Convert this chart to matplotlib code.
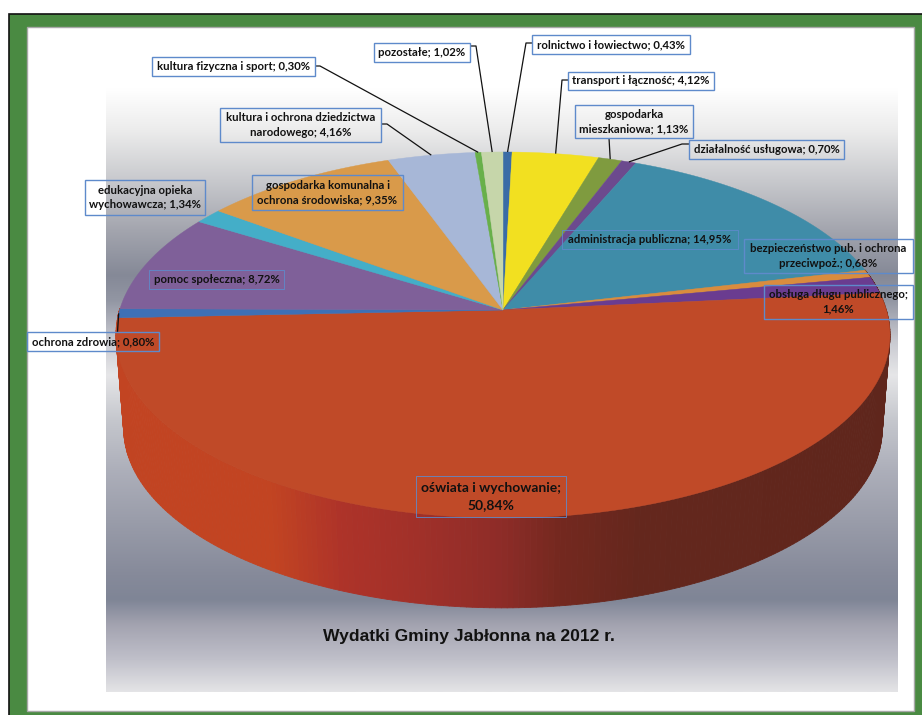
import numpy as np
import matplotlib
matplotlib.use("Agg")
import matplotlib.pyplot as plt
from matplotlib.colors import to_rgb
from matplotlib.patches import Rectangle, Polygon
from matplotlib.collections import PolyCollection

# ---- data ----
categories = ["rolnictwo i łowiectwo", "transport i łączność", "gospodarka mieszkaniowa",
              "działalność usługowa", "administracja publiczna",
              "bezpieczeństwo pub. i ochrona przeciwpoż.", "obsługa długu publicznego",
              "oświata i wychowanie", "ochrona zdrowia", "pomoc społeczna",
              "edukacyjna opieka wychowawcza", "gospodarka komunalna i ochrona środowiska",
              "kultura i ochrona dziedzictwa narodowego", "kultura fizyczna i sport", "pozostałe"]
values = [0.43, 4.12, 1.13, 0.70, 14.95, 0.68, 1.46, 50.84, 0.80, 8.72, 1.34, 9.35, 4.16, 0.30, 1.02]
colors = ["#3A6CA6", "#F2E020", "#7F9B3F", "#6C4A8E", "#3F8CA8", "#D98C3E", "#6A3C90", "#C04A28",
          "#3E70B6", "#7F6099", "#44AEC8", "#D99A4A", "#A7B7D7", "#68B04A", "#C6D6AA"]
title = "Wydatki Gminy Jabłonna na 2012 r."

# ---- layout (pixel space of the page) ----
W, H = 922, 715
CX, CY, A, B, K = 503.0, 310.0, 383.4, 179.6, 0.1366
BOTTOM_SCALE, BOTTOM_SHIFT = 0.98, 94.0

label_text = [
    "rolnictwo i łowiectwo; 0,43%", "transport i łączność; 4,12%", "gospodarka\nmieszkaniowa; 1,13%",
    "działalność usługowa; 0,70%", "administracja publiczna; 14,95%",
    "bezpieczeństwo pub. i ochrona\nprzeciwpoż.; 0,68%", "obsługa długu publicznego;\n1,46%",
    "oświata i wychowanie;\n50,84%", "ochrona zdrowia; 0,80%", "pomoc społeczna; 8,72%",
    "edukacyjna opieka\nwychowawcza; 1,34%", "gospodarka komunalna i\nochrona środowiska; 9,35%",
    "kultura i ochrona dziedzictwa\nnarodowego; 4,16%", "kultura fizyczna i sport; 0,30%",
    "pozostałe; 1,02%"]
boxes = [(532, 35, 690, 54), (568, 72, 714, 90), (575, 105, 693, 138), (689, 140, 844, 159),
         (562, 230, 738, 249), (744, 239, 913, 273), (764, 285, 913, 319), (416, 476, 566, 517),
         (27, 332, 159, 351), (149, 270, 284, 289), (85, 180, 205, 215), (252, 175, 403, 210),
         (220, 108, 381, 142), (152, 57, 315, 76), (374, 43, 470, 62)]
font_sizes = [8.2] * 15
font_sizes[7] = 10
line_spacing = [1.36] * 15
line_spacing[7] = 1.5
box_widths = [1.0] * 15
box_widths[4] = box_widths[7] = box_widths[9] = 0.6
elbows = {0: [(532, 43), (526, 43)], 1: [(568, 80), (562, 80)], 2: [(609, 138)],
          3: [(689, 144), (682, 144)], 8: [(117.5, 332)], 12: [(381, 124), (387, 124)],
          13: [(315, 66), (320, 66)], 14: [(470, 46), (476, 46)]}

BG_STOPS = [(88, "#FFFFFF"), (130, "#ECECEC"), (180, "#C8C9CD"), (230, "#A3A5AE"), (275, "#858997"),
            (300, "#9296A3"), (340, "#C8C9D0"), (375, "#E6E6E8"), (420, "#C5C7CD"), (470, "#ADAFBA"),
            (520, "#9A9DAA"), (575, "#868A9A"), (600, "#7F8596"), (625, "#A3A3B0"), (660, "#C0C0CA"),
            (692, "#E4E4E6")]
SIDE_STOPS = [(116, "#C24422"), (270, "#C24422"), (340, "#AE3329"), (420, "#A03029"), (500, "#8E2C28"),
              (560, "#74281F"), (640, "#64271D"), (889, "#5F261C")]


def project(theta_deg, r=1.0):
    """Clockwise-from-top pie angle onto the tilted page plane."""
    t = np.radians(theta_deg)
    u, v = r * np.sin(t), r * np.cos(t)
    d = 1 + K * v
    return CX + A * u / d, CY - B * v / d


def project_bottom(theta_deg):
    x, y = project(theta_deg)
    return CX + (x - CX) * BOTTOM_SCALE, CY + (y - CY) * BOTTOM_SCALE + BOTTOM_SHIFT


plt.rcParams["font.family"] = ["Lato", "DejaVu Sans"]
fig = plt.figure(figsize=(W / 100, H / 100), dpi=100, facecolor="white")
ax = fig.add_axes([0, 0, 1, 1])
ax.axis("off")

# page frame
ax.add_patch(Rectangle((9, 13.5), W, H, fc="#4A8A42", ec="#111111", lw=1.2, zorder=0))
ax.add_patch(Rectangle((26.5, 27), 887, 683.5, fc="white", ec="#A8A8A8", lw=1, zorder=0.5))

# background gradient
ys = np.array([s[0] for s in BG_STOPS], float)
rgb = np.array([to_rgb(s[1]) for s in BG_STOPS])
yy = np.arange(88, 692.5, 1.0)
grad = np.stack([np.interp(yy, ys, rgb[:, i]) for i in range(3)], axis=1)[:, None, :]
ax.imshow(grad, extent=(106, 897, 692, 88), aspect="auto", zorder=1, interpolation="bilinear")
ax.set_xlim(0, W)
ax.set_ylim(H, 0)

# slices
cum = np.concatenate([[0], np.cumsum(values)]) / np.sum(values) * 360.0
starts, ends = cum[:-1], cum[1:]
sx = np.array([s[0] for s in SIDE_STOPS], float)
srgb = np.array([to_rgb(s[1]) for s in SIDE_STOPS])

# extruded rim, visible along the front half
for a0, a1 in zip(starts, ends):
    if a0 < 70 or a1 > 290:
        continue
    th = np.linspace(a0, a1, 240)
    tx, ty = project(th)
    bx, by = project_bottom(th)
    quads, cols = [], []
    for i in range(len(th) - 1):
        quads.append([(tx[i], ty[i]), (tx[i + 1], ty[i + 1]), (bx[i + 1], by[i + 1]), (bx[i], by[i])])
        xm = (tx[i] + tx[i + 1]) / 2
        cols.append([np.interp(xm, sx, srgb[:, k]) for k in range(3)])
    ax.add_collection(PolyCollection(quads, facecolors=cols, edgecolors=cols, linewidths=0.6, zorder=2))

# top face
for a0, a1, c in zip(starts, ends, colors):
    th = np.linspace(a0, a1, max(3, int((a1 - a0) * 2)))
    x, y = project(th)
    pts = np.column_stack([np.r_[CX, x], np.r_[CY, y]])
    ax.add_patch(Polygon(pts, closed=True, fc=c, ec=c, lw=0.3, zorder=3))

# leader lines end on the rim of their slice
for i, pts in elbows.items():
    tip = project((starts[i] + ends[i]) / 2, 1.0)
    line = list(pts) + [tip]
    ax.plot([p[0] for p in line], [p[1] for p in line], color="#111111", lw=0.9, zorder=4,
            solid_capstyle="butt")

# labels
for txt, (x0, y0, x1, y1), fs, ls, bw in zip(label_text, boxes, font_sizes, line_spacing, box_widths):
    ax.add_patch(Rectangle((x0, y0), x1 - x0, y1 - y0, fc="none", ec="#5E8ACB", lw=bw, zorder=5))
    ax.text((x0 + x1) / 2, (y0 + y1) / 2, txt, ha="center", va="center", ma="center",
            fontsize=fs, fontweight="bold", color="#111111", linespacing=ls, zorder=6)

ax.text(469, 637, title, ha="center", va="center", fontsize=12.6, fontweight="bold",
        family=["Liberation Sans"], color="#111111", zorder=6)

fig.savefig("out.png", dpi=100, facecolor="white")
